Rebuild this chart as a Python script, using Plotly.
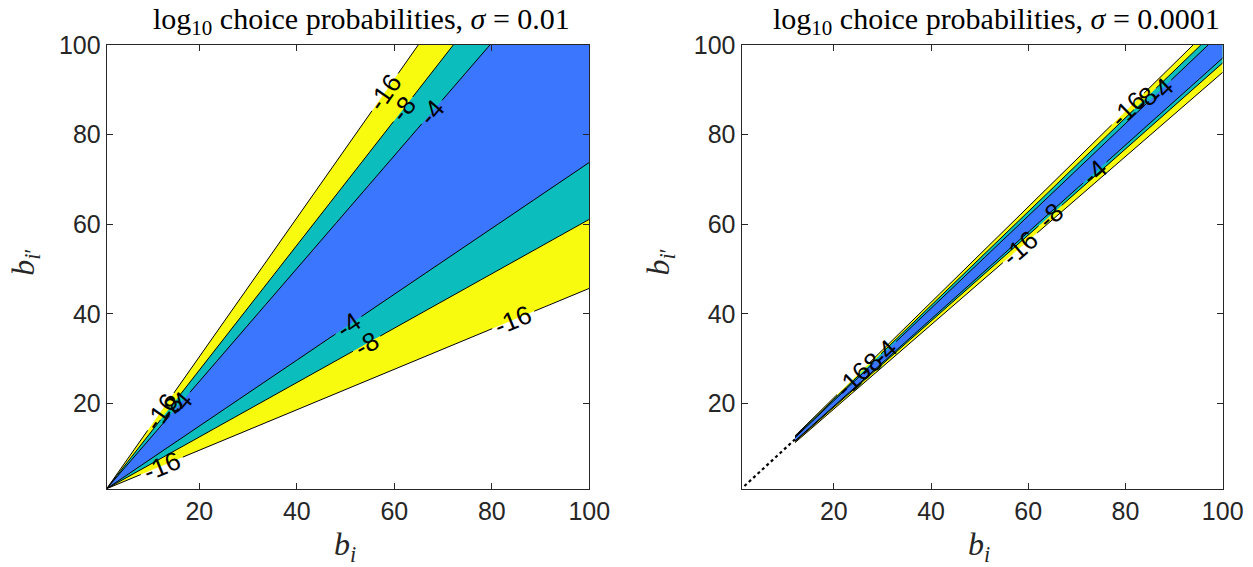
import math
import plotly.graph_objects as go

# ---------------- data ----------------
LEVELS = [-16, -8, -4]
LEVEL_COLORS = {-16: "#F9FB0E", -8: "#0BBDBD", -4: "#3A76FF"}
TICKS = [20, 40, 60, 80, 100]
AX_MIN, AX_MAX = 1, 100

# sigma = 0.01 panel: contour lines start near (1,1)
left_start = (1.0, 1.0)
left_upper_end_x = [64.9, 72.1, 79.6]      # where upper lines hit y = 100 (levels -16, -8, -4)
left_lower_end_y = [45.7, 61.1, 73.8]      # where lower lines hit x = 100

# sigma = 0.0001 panel: lines are rays from the origin, resolved from b_i ~ 12 on
right_start_b = 12.0
right_upper_end_x = [93.9, 95.5, 97.0]
right_lower_end_y = [93.9, 96.0, 97.1]
right_dotted_x = [1.6, 12.0]
right_dotted_y = [1.6, 12.0]

# contour labels: (side, level, x position along line)
left_labels = [("upper", -16, 58.1), ("upper", -8, 61.8), ("upper", -4, 67.7),
               ("upper", -16, 12.1), ("upper", -8, 14.0), ("upper", -4, 16.0),
               ("lower", -4, 50.6), ("lower", -8, 54.3), ("lower", -16, 84.4),
               ("lower", -16, 12.3)]
right_labels = [("upper", -16, 80.5), ("upper", -8, 84.0), ("upper", -4, 87.1),
                ("upper", -16, 24.0), ("upper", -8, 27.4), ("upper", -4, 30.5),
                ("lower", -16, 58.3), ("lower", -8, 64.5), ("lower", -4, 73.7)]

titles = ["log<sub>10</sub> choice probabilities, <i>σ</i> = 0.01",
          "log<sub>10</sub> choice probabilities, <i>σ</i> = 0.0001"]

# ---------------- layout geometry ----------------
W, H = 1253, 567
LEFT_DOM = [106.7 / W, 589.3 / W]
RIGHT_DOM = [741.5 / W, 1222.7 / W]
Y_DOM = [(H - 488.7) / H, (H - 45.0) / H]
PX_X = (LEFT_DOM[1] - LEFT_DOM[0]) * W / (AX_MAX - AX_MIN)
PX_Y = (Y_DOM[1] - Y_DOM[0]) * H / (AX_MAX - AX_MIN)

LABEL_SIZE = 26
FONT_SANS = "Liberation Sans, Arial, sans-serif"
FONT_SERIF = "Liberation Serif, Times New Roman, serif"
AXCOL = "#262626"

fig = go.Figure()


def left_line(side, i):
    if side == "upper":
        return left_start, (left_upper_end_x[i], AX_MAX)
    return left_start, (AX_MAX, left_lower_end_y[i])


def right_line(side, i):
    # ray through the origin, starting at b = right_start_b
    if side == "upper":
        k = AX_MAX / right_upper_end_x[i]
        return (right_start_b, right_start_b * k), (right_upper_end_x[i], AX_MAX)
    k = right_lower_end_y[i] / AX_MAX
    return (right_start_b, right_start_b * k), (AX_MAX, right_lower_end_y[i])


def y_on(p0, p1, x):
    return p0[1] + (x - p0[0]) * (p1[1] - p0[1]) / (p1[0] - p0[0])


def add_panel(xa, ya, line_fn, labels):
    # filled bands, outermost first
    for i, lev in enumerate(LEVELS):
        u0, u1 = line_fn("upper", i)
        l0, l1 = line_fn("lower", i)
        xs = [l0[0], l1[0], AX_MAX, u1[0], u0[0], l0[0]]
        ys = [l0[1], l1[1], AX_MAX, u1[1], u0[1], l0[1]]
        fig.add_trace(go.Scatter(x=xs, y=ys, fill="toself", fillcolor=LEVEL_COLORS[lev],
                                 mode="none", hoverinfo="skip", showlegend=False,
                                 xaxis=xa, yaxis=ya))
    # contour lines with gaps for labels
    for side in ("upper", "lower"):
        for i, lev in enumerate(LEVELS):
            p0, p1 = line_fn(side, i)
            dxp = (p1[0] - p0[0]) * PX_X
            dyp = (p1[1] - p0[1]) * PX_Y
            Lpx = math.hypot(dxp, dyp)
            gaps = []
            for s, lv, xc in labels:
                if s == side and lv == lev:
                    tc = (xc - p0[0]) / (p1[0] - p0[0])
                    hl = (len(str(lev)) * 0.556 + 0.333 - 0.556) * LABEL_SIZE / 2 + 4
                    gaps.append((tc - hl / Lpx, tc + hl / Lpx))
            gaps.sort()
            segs = []
            t = 0.0
            for g0, g1 in gaps:
                if g0 > t:
                    segs.append((t, g0))
                t = max(t, g1)
            if t < 1:
                segs.append((t, 1.0))
            xs, ys = [], []
            for a, b in segs:
                for tt in (a, b):
                    xs.append(p0[0] + tt * (p1[0] - p0[0]))
                    ys.append(p0[1] + tt * (p1[1] - p0[1]))
                xs.append(None)
                ys.append(None)
            fig.add_trace(go.Scatter(x=xs, y=ys, mode="lines",
                                     line=dict(color="black", width=1.0),
                                     hoverinfo="skip", showlegend=False,
                                     xaxis=xa, yaxis=ya))
    # labels
    for side, lev, xc in labels:
        i = LEVELS.index(lev)
        p0, p1 = line_fn(side, i)
        ang = math.degrees(math.atan2((p1[1] - p0[1]) * PX_Y, (p1[0] - p0[0]) * PX_X))
        fig.add_annotation(x=xc, y=y_on(p0, p1, xc), xref=xa, yref=ya, text=str(lev),
                           showarrow=False, textangle=-ang,
                           font=dict(family=FONT_SANS, size=LABEL_SIZE, color="black"),
                           xanchor="center", yanchor="middle")


add_panel("x", "y", left_line, left_labels)
add_panel("x2", "y2", right_line, right_labels)

fig.add_trace(go.Scatter(x=right_dotted_x, y=right_dotted_y, mode="lines",
                         line=dict(color="black", width=2.2, dash="dot"),
                         hoverinfo="skip", showlegend=False, xaxis="x2", yaxis="y2"))

axis_common = dict(range=[AX_MIN, AX_MAX], tickvals=TICKS, ticks="inside", ticklen=6,
                   tickcolor=AXCOL, showline=True, linecolor=AXCOL, linewidth=1,
                   mirror="ticks", showgrid=False, zeroline=False, automargin=False,
                   tickfont=dict(family=FONT_SANS, size=25, color=AXCOL))

fig.update_layout(
    width=W, height=H, autosize=False,
    margin=dict(l=0, r=0, t=0, b=0, pad=0),
    paper_bgcolor="white", plot_bgcolor="white",
    xaxis=dict(domain=LEFT_DOM, anchor="y", **axis_common),
    yaxis=dict(domain=Y_DOM, anchor="x", **axis_common),
    xaxis2=dict(domain=RIGHT_DOM, anchor="y2", **axis_common),
    yaxis2=dict(domain=Y_DOM, anchor="x2", **axis_common),
)

for dom, title in zip([LEFT_DOM, RIGHT_DOM], titles):
    cx = (dom[0] + dom[1]) / 2 + 14 / W
    fig.add_annotation(x=cx, y=1 - 21 / H, xref="paper", yref="paper", text=title,
                       showarrow=False, xanchor="center", yanchor="middle",
                       font=dict(family=FONT_SERIF, size=30, color="black"))
    fig.add_annotation(x=(dom[0] + dom[1]) / 2 - 3 / W, y=1 - 546 / H, xref="paper",
                       yref="paper", text="<i>b</i><sub><i>i</i></sub>",
                       showarrow=False, xanchor="center", yanchor="middle",
                       font=dict(family=FONT_SERIF, size=32, color=AXCOL))
    fig.add_annotation(x=dom[0] - 82 / W, y=1 - 262 / H, xref="paper", yref="paper",
                       text="<i>b</i><sub><i>i</i>′</sub>", textangle=-90,
                       showarrow=False, xanchor="center", yanchor="middle",
                       font=dict(family=FONT_SERIF, size=32, color=AXCOL))

fig.write_html("out.html")
